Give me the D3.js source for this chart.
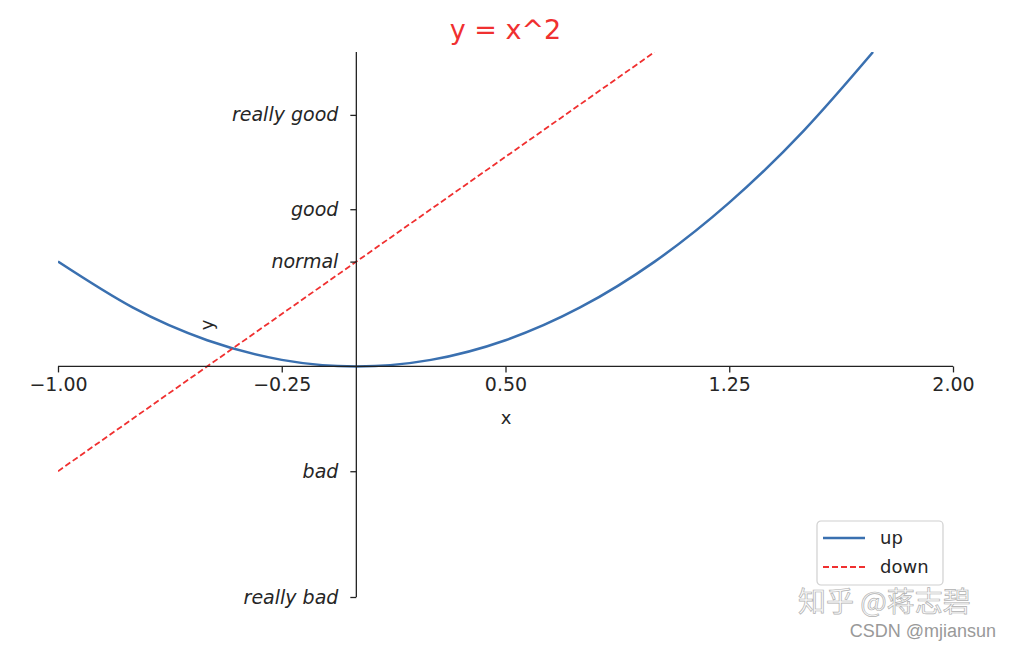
<!DOCTYPE html>
<html>
<head>
<meta charset="utf-8">
<script src="https://cdn.jsdelivr.net/npm/d3@7"></script>
<style>
  body { margin: 0; background: #fff; }
  svg { font-family: "DejaVu Sans", sans-serif; }
</style>
</head>
<body>
<svg id="chart" width="1010" height="646"></svg>
<script>
'use strict';

// values
var upX = [-1, -0.75, -0.5, -0.25, 0, 0.25, 0.5, 0.75, 1, 1.25, 1.5, 1.732];
var upY = [1, 0.5625, 0.25, 0.0625, 0, 0.0625, 0.25, 0.5625, 1, 1.5625, 2.25, 3];
var downX = [-1, 1];
var downY = [-1, 3];

var xTicks = [-1, -0.25, 0.5, 1.25, 2];
var yTicks = [-2.2, -1, 1, 1.5, 2.4];
var yTickLabels = ["really bad", "bad", "normal", "good", "really good"];
var seriesNames = ["up", "down"];

var svg = d3.select("#chart");
var box = { left: 58, right: 953, top: 52, bottom: 597 };

var x = d3.scaleLinear().domain([-1, 2]).range([box.left, box.right]);
var y = d3.scaleLinear().domain([-2.2, 3]).range([box.bottom, box.top]);

svg.append("defs").append("clipPath").attr("id", "clip")
	.append("rect")
	.attr("x", box.left).attr("y", box.top)
	.attr("width", box.right - box.left).attr("height", box.bottom - box.top);

var line = d3.line()
	.x(function(d) { return x(d[0]); })
	.y(function(d) { return y(d[1]); });

var plot = svg.append("g").attr("clip-path", "url(#clip)");

plot.append("path")
	.datum(d3.zip(upX, upY))
	.attr("d", line.curve(d3.curveNatural))
	.attr("fill", "none")
	.attr("stroke", "#3a70b0")
	.attr("stroke-width", 2.5);

plot.append("path")
	.datum(d3.zip(downX, downY))
	.attr("d", line.curve(d3.curveLinear))
	.attr("fill", "none")
	.attr("stroke", "#f03030")
	.attr("stroke-width", 1.8)
	.attr("stroke-dasharray", "6,3");

// x axis sits on y = 0
var xAxis = svg.append("g")
	.attr("transform", "translate(0," + y(0) + ")")
	.call(d3.axisBottom(x).tickValues(xTicks).tickFormat(d3.format(".2f")).tickSizeOuter(0).tickSize(6).tickPadding(5));

// y axis sits on x = 0
var yAxis = svg.append("g")
	.attr("transform", "translate(" + x(0) + ",0)")
	.call(d3.axisLeft(y).tickValues(yTicks)
		.tickFormat(function(d, i) { return yTickLabels[i]; })
		.tickSizeOuter(0).tickSize(6).tickPadding(12));

[xAxis, yAxis].forEach(function(g) {
	g.select(".domain").attr("stroke", "#222").attr("stroke-width", 1.3);
	g.selectAll(".tick line").attr("stroke", "#222").attr("stroke-width", 1.3);
	g.selectAll(".tick text")
		.attr("fill", "#262626")
		.style("font-family", "DejaVu Sans")
		.style("font-size", "19px");
});
yAxis.selectAll(".tick text").style("font-style", "italic");
yAxis.select(".domain").attr("d", "M0," + box.top + "V" + box.bottom);
xAxis.select(".domain").attr("d", "M" + box.left + ",0H" + box.right);

svg.append("text")
	.attr("x", (box.left + box.right) / 2).attr("y", 39)
	.attr("text-anchor", "middle")
	.attr("fill", "#f03030")
	.style("font-size", "27px")
	.text("y = x^2");

svg.append("text")
	.attr("x", 506).attr("y", 424)
	.attr("text-anchor", "middle")
	.attr("fill", "#262626")
	.style("font-size", "18px")
	.text("x");

svg.append("text")
	.attr("transform", "translate(213,325) rotate(-90)")
	.attr("text-anchor", "middle")
	.attr("fill", "#262626")
	.style("font-size", "18px")
	.text("y");

// legend
var legend = svg.append("g").attr("transform", "translate(817,521)");
legend.append("rect")
	.attr("width", 126).attr("height", 64)
	.attr("rx", 4)
	.attr("fill", "#fff")
	.attr("stroke", "#d0d0d0")
	.attr("stroke-width", 1.2);

var styles = [
	{ color: "#3a70b0", width: 2.5, dash: null },
	{ color: "#f03030", width: 1.8, dash: "6,3" }
];
seriesNames.forEach(function(name, i) {
	var row = legend.append("g").attr("transform", "translate(0," + (17 + i * 29) + ")");
	row.append("line")
		.attr("x1", 6).attr("x2", 48)
		.attr("stroke", styles[i].color)
		.attr("stroke-width", styles[i].width)
		.attr("stroke-dasharray", styles[i].dash);
	row.append("text")
		.attr("x", 63).attr("y", 6)
		.attr("fill", "#262626")
		.style("font-size", "18px")
		.text(name);
});

// watermarks
svg.append("text")
	.attr("x", 798).attr("y", 612)
	.attr("fill", "#fafafa")
	.attr("stroke", "#b0b0b0")
	.attr("stroke-width", 0.7)
	.style("font-family", "Noto Sans CJK SC")
	.style("font-size", "28px")
	.text("知乎 @蒋志碧");

svg.append("text")
	.attr("x", 996).attr("y", 637)
	.attr("text-anchor", "end")
	.attr("fill", "#999")
	.style("font-family", "Liberation Sans")
	.style("font-size", "18px")
	.text("CSDN @mjiansun");
</script>
</body>
</html>
